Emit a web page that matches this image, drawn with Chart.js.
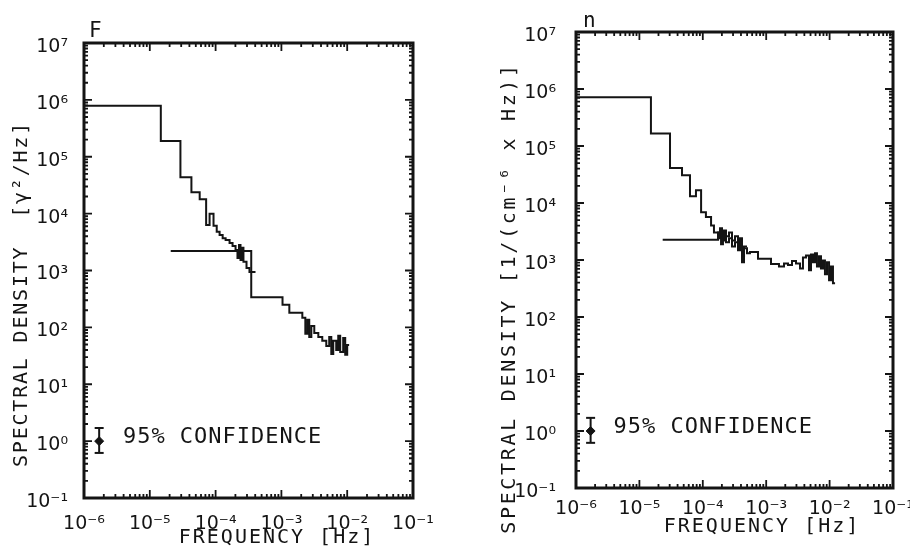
<!DOCTYPE html>
<html>
<head>
<meta charset="utf-8">
<title>Spectral density F and n</title>
<script src="https://cdn.jsdelivr.net/npm/chart.js@4.4.1/dist/chart.umd.min.js"></script>
<style>
    body { margin: 0; background: #ffffff; }
    .panel { position: absolute; top: 0; width: 455px; height: 549px; }
</style>
</head>
<body>
<div class="panel" style="left:0"><canvas id="chartF"></canvas></div>
<div class="panel" style="left:455px"><canvas id="chartN"></canvas></div>
<script>
// Ink and fonts of the old plotter figure
const INK = '#141414';
const FONT = 'DejaVu Sans Mono';
const TICK_FONT = 'DejaVu Sans';

// Panel F: band edges [Hz] (last entry closes the last band) and density [γ²/Hz]
const fLowFreq = [1.0e-6, 1.47e-5, 2.92e-5, 4.29e-5, 5.73e-5, 7.18e-5, 8.1e-5, 9.3e-5, 1.04e-4, 1.15e-4, 1.28e-4, 1.42e-4,
    1.63e-4, 1.81e-4, 2.01e-4, 2.15e-4, 2.27e-4, 2.39e-4, 2.52e-4, 2.65e-4, 2.95e-4, 3.27e-4, 4.04e-4];
const fLowDensity = [7.9e5, 1.9e5, 4.35e4, 2.38e4, 1.79e4, 6.3e3, 9.9e3, 6.1e3, 4.8e3, 4.2e3, 3.7e3, 3.45e3,
    3.05e3, 2.7e3, 2.3e3, 1.66e3, 2.8e3, 1.53e3, 2.5e3, 1.42e3, 1.11e3, 9.4e2, 9.4e2];
const fHighFreq = [2.08e-5, 3.48e-4, 1.04e-3, 1.32e-3, 2.08e-3, 2.31e-3, 2.48e-3, 2.65e-3, 2.85e-3, 3.16e-3, 3.64e-3, 4.18e-3,
    4.81e-3, 5.33e-3, 5.73e-3, 6.14e-3, 6.81e-3, 7.31e-3, 7.83e-3, 8.69e-3, 9.33e-3, 1.0e-2, 1.07e-2];
const fHighDensity = [2.2e3, 3.4e2, 2.5e2, 1.8e2, 1.47e2, 77, 136, 68, 106, 80, 68, 58,
    47, 68, 34, 58, 40, 71, 37, 65, 33, 49, 49];

// Panel n: band edges [Hz] and density [1/(cm⁻⁶ x Hz)]
const nLowFreq = [1.0e-6, 1.52e-5, 3.04e-5, 4.7e-5, 6.28e-5, 7.8e-5, 9.4e-5, 1.12e-4, 1.35e-4, 1.5e-4, 1.74e-4, 1.87e-4,
    2.01e-4, 2.16e-4, 2.32e-4, 2.59e-4, 2.89e-4, 3.22e-4, 3.59e-4, 3.86e-4, 4.15e-4, 4.47e-4, 4.98e-4];
const nLowDensity = [7.2e5, 1.66e5, 4.1e4, 3.07e4, 1.31e4, 1.67e4, 6.9e3, 5.7e3, 4.05e3, 3.05e3, 2.4e3, 3.6e3,
    2.2e3, 3.3e3, 2.6e3, 3.05e3, 2.2e3, 2.6e3, 1.88e3, 2.4e3, 1.07e3, 1.73e3, 1.73e3];
const nHighFreq = [2.33e-5, 1.74e-4, 1.94e-4, 2.08e-4, 2.32e-4, 2.59e-4, 2.89e-4, 3.22e-4, 3.59e-4, 3.86e-4, 4.15e-4, 4.47e-4,
    4.98e-4, 5.54e-4, 7.43e-4, 1.19e-3, 1.59e-3, 1.91e-3, 2.21e-3, 2.55e-3, 2.95e-3, 3.41e-3, 3.8e-3, 4.25e-3,
    4.73e-3, 5.09e-3, 5.47e-3, 5.89e-3, 6.32e-3, 6.81e-3, 7.31e-3, 7.87e-3, 8.45e-3, 9.1e-3, 9.8e-3, 1.05e-2,
    1.13e-2, 1.22e-2];
const nHighDensity = [2.27e3, 3.05e3, 1.88e3, 2.6e3, 2.04e3, 2.4e3, 1.73e3, 2.04e3, 1.48e3, 1.88e3, 9.1e2, 1.6e3,
    1.31e3, 1.38e3, 1.05e3, 8.5e2, 7.7e2, 8.7e2, 8.2e2, 9.6e2, 8.7e2, 7.1e2, 1.11e3, 1.2e3,
    6.6e2, 1.25e3, 9.1e2, 1.31e3, 7.7e2, 1.16e3, 7.1e2, 9.8e2, 5.6e2, 9.1e2, 4.4e2, 7.7e2,
    3.9e2, 3.9e2];

// 95% confidence marker (same on both panels)
const confFreq = 1.7e-6;
const confCenter = 1;
const confRange = [0.62, 1.7];

// Axis decades (tick labels 10^n)
const xDecades = [-6, -5, -4, -3, -2, -1];
const yDecades = [-1, 0, 1, 2, 3, 4, 5, 6, 7];

const SUPERSCRIPT = { '-': '⁻', '0': '⁰', '1': '¹', '2': '²', '3': '³', '4': '⁴', '5': '⁵', '6': '⁶', '7': '⁷', '8': '⁸', '9': '⁹' };

function isDecade(value) {
    const l = Math.log10(value);
    return Math.abs(l - Math.round(l)) < 1e-6;
}

function powerLabel(value) {
    if (!isDecade(value)) return '';
    const exp = String(Math.round(Math.log10(value)));
    return '10' + exp.split('').map(c => SUPERSCRIPT[c]).join('');
}

// 1..9 x 10^n for every decade, up to the last decade
function logTicks(decades) {
    const ticks = [];
    decades.forEach((d, i) => {
        for (let m = 1; m <= 9; m++) {
            if (m > 1 && i === decades.length - 1) break;
            ticks.push({ value: parseFloat((m * Math.pow(10, d)).toPrecision(6)) });
        }
    });
    return ticks;
}

function toPoints(freq, density) {
    return freq.map((f, i) => ({ x: f, y: density[i] }));
}

/**
 * Frame with inward major/minor ticks on all four sides
 */
const frameTicks = {
    id: 'frameTicks',
    afterDatasetsDraw(chart) {
        const { ctx, chartArea: a, scales: { x, y } } = chart;
        ctx.save();
        ctx.strokeStyle = INK;
        ctx.lineWidth = 1.8;
        ctx.beginPath();
        x.ticks.forEach(t => {
            const px = x.getPixelForValue(t.value);
            const len = isDecade(t.value) ? 8 : 4;
            ctx.moveTo(px, a.bottom); ctx.lineTo(px, a.bottom - len);
            ctx.moveTo(px, a.top); ctx.lineTo(px, a.top + len);
        });
        y.ticks.forEach(t => {
            const py = y.getPixelForValue(t.value);
            const len = isDecade(t.value) ? 8 : 4;
            ctx.moveTo(a.left, py); ctx.lineTo(a.left + len, py);
            ctx.moveTo(a.right, py); ctx.lineTo(a.right - len, py);
        });
        ctx.stroke();
        ctx.lineWidth = 3;
        ctx.strokeRect(a.left, a.top, a.right - a.left, a.bottom - a.top);
        ctx.restore();
    }
};

/**
 * Panel letter, axis titles and the confidence note
 */
const panelText = {
    id: 'panelText',
    afterDraw(chart, args, opts) {
        const { ctx, scales: { x, y } } = chart;
        ctx.save();
        ctx.fillStyle = INK;
        ctx.textBaseline = 'middle';

        ctx.font = `21px "${FONT}"`;
        ctx.textAlign = 'left';
        ctx.fillText(opts.letter, opts.letterPos[0], opts.letterPos[1]);

        ctx.font = `20px "${FONT}"`;
        ctx.textAlign = 'center';
        ctx.letterSpacing = '2px';
        ctx.fillText(opts.xTitle, opts.xTitlePos[0], opts.xTitlePos[1]);

        ctx.save();
        ctx.letterSpacing = opts.yTitleSpacing;
        ctx.translate(opts.yTitlePos[0], opts.yTitlePos[1]);
        ctx.rotate(-Math.PI / 2);
        ctx.fillText(opts.yTitle, 0, 0);
        ctx.restore();

        ctx.font = `22px "${FONT}"`;
        ctx.letterSpacing = '1px';
        ctx.textAlign = 'left';
        ctx.fillText('95% CONFIDENCE', x.getPixelForValue(3.9e-6), y.getPixelForValue(confCenter) - 4);
        ctx.restore();
    }
};

function createSpectrumChart(canvasId, panel) {
    const lineStyle = {
        borderColor: INK,
        borderWidth: 2,
        pointRadius: 0,
        stepped: true,
        fill: false
    };
    return new Chart(document.getElementById(canvasId), {
        type: 'line',
        data: {
            datasets: [
                { ...lineStyle, data: toPoints(panel.lowFreq, panel.lowDensity) },
                { ...lineStyle, data: toPoints(panel.highFreq, panel.highDensity) },
                {
                    data: confRange.map(v => ({ x: confFreq, y: v })),
                    borderColor: INK,
                    borderWidth: 2,
                    pointStyle: 'line',
                    pointRadius: 4.5,
                    pointBorderWidth: 2,
                    pointBorderColor: INK
                },
                {
                    data: [{ x: confFreq, y: confCenter }],
                    showLine: false,
                    pointStyle: 'rectRot',
                    pointRadius: 4.5,
                    pointBackgroundColor: INK,
                    pointBorderColor: INK
                }
            ]
        },
        options: {
            responsive: true,
            maintainAspectRatio: false,
            animation: false,
            layout: { padding: panel.padding },
            plugins: {
                legend: { display: false },
                tooltip: { enabled: false },
                panelText: panel.text
            },
            scales: {
                x: {
                    type: 'logarithmic',
                    min: 1e-6,
                    max: 1e-1,
                    grid: { display: false },
                    border: { display: false },
                    afterBuildTicks: s => { s.ticks = logTicks(xDecades); },
                    afterFit: s => { s.height = panel.xAxisHeight; s.paddingLeft = 0; s.paddingRight = 0; },
                    ticks: {
                        autoSkip: false,
                        maxRotation: 0,
                        padding: panel.xTickPadding,
                        color: INK,
                        font: { family: TICK_FONT, size: 19 },
                        callback: powerLabel
                    }
                },
                y: {
                    type: 'logarithmic',
                    min: 1e-1,
                    max: 1e7,
                    grid: { display: false },
                    border: { display: false },
                    afterBuildTicks: s => { s.ticks = logTicks(yDecades); },
                    afterFit: s => { s.width = panel.yAxisWidth; s.paddingTop = 0; s.paddingBottom = 0; },
                    ticks: {
                        autoSkip: false,
                        padding: panel.yTickPadding,
                        labelOffset: 4,
                        color: INK,
                        font: { family: TICK_FONT, size: 19 },
                        callback: powerLabel
                    }
                }
            }
        },
        plugins: [frameTicks, panelText]
    });
}

createSpectrumChart('chartF', {
    lowFreq: fLowFreq, lowDensity: fLowDensity,
    highFreq: fHighFreq, highDensity: fHighDensity,
    padding: { top: 43, right: 42, bottom: 0, left: 0 },
    xAxisHeight: 51,
    yAxisWidth: 84,
    xTickPadding: 7,
    yTickPadding: 8,
    text: {
        letter: 'F', letterPos: [89, 32],
        xTitle: 'FREQUENCY [Hz]', xTitlePos: [277, 538],
        yTitle: 'SPECTRAL DENSITY  [γ²/Hz]', yTitlePos: [22, 294], yTitleSpacing: '1.8px'
    }
});

createSpectrumChart('chartN', {
    lowFreq: nLowFreq, lowDensity: nLowDensity,
    highFreq: nHighFreq, highDensity: nHighDensity,
    padding: { top: 32, right: 17, bottom: 0, left: 0 },
    xAxisHeight: 61,
    yAxisWidth: 121,
    xTickPadding: 2,
    yTickPadding: 12,
    text: {
        letter: 'n', letterPos: [128, 22],
        xTitle: 'FREQUENCY [Hz]', xTitlePos: [307, 527],
        yTitle: 'SPECTRAL DENSITY [1/(cm⁻⁶ x Hz)]', yTitlePos: [55, 298], yTitleSpacing: '2.7px'
    }
});
</script>
</body>
</html>
